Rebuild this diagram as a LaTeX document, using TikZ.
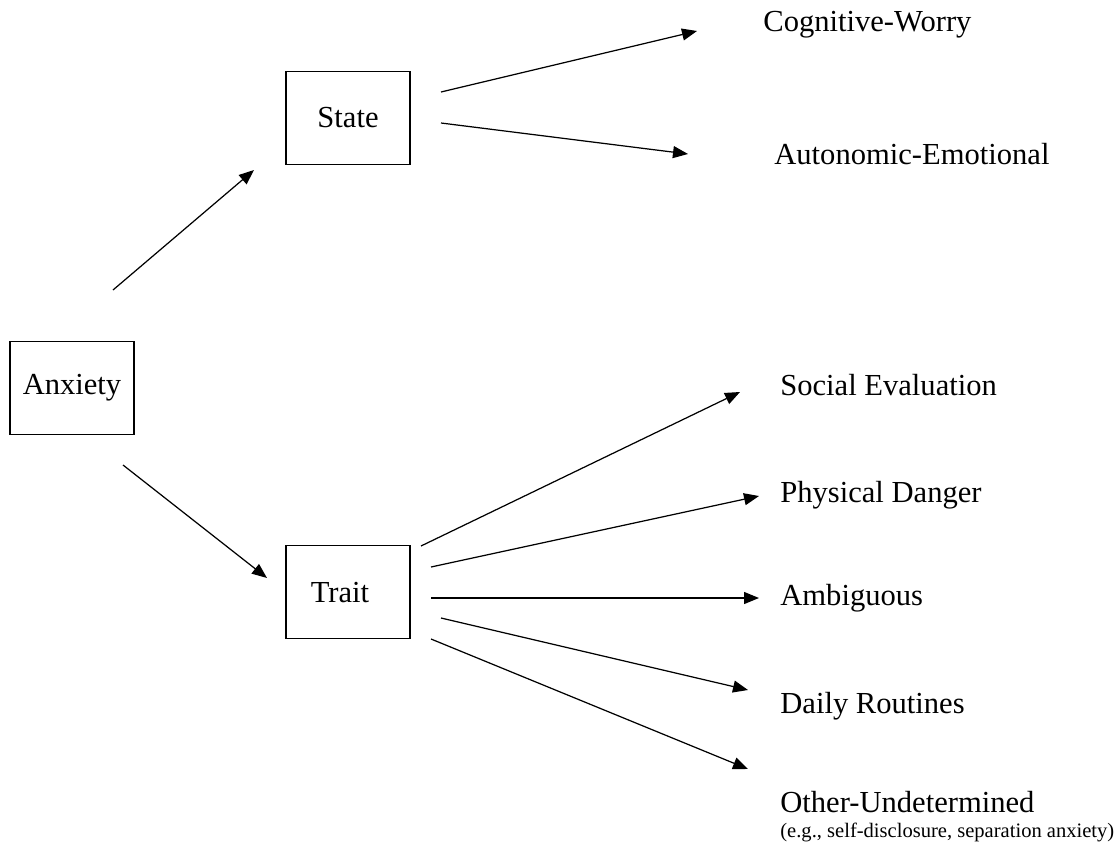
\documentclass[tikz,border=0pt]{standalone}
\usepackage{fontspec}
\setmainfont{Liberation Serif}
\usepackage{tikz}
\usetikzlibrary{arrows.meta,positioning}

\begin{document}
\begin{tikzpicture}[
        x=0.02cm, y=-0.02cm,
        font=\fontsize{17.4}{20}\selectfont,
        box/.style={rectangle, draw, line width=0.8pt, minimum width=2.48cm, minimum height=1.86cm, inner sep=0pt},
        lbl/.style={anchor=west, inner sep=0pt},
        arr/.style={-{Triangle[length=0.3cm, width=0.24cm]}, line width=0.7pt}
    ]
        \useasboundingbox (0,0) rectangle (1118,848);
        % boxes
        \node[box] (anx) at (72,388) {Anxiety};
        \node[box] (state) at (348,118) {State};
        \node[box] (trait) at (348,592) {};
        \node[inner sep=0pt] (traittxt) at (340,593) {Trait};
        % labels
        \node[lbl] (cog) at (763,25) {Cognitive-Worry};
        \node[lbl] (aut) at (774,154) {Autonomic-Emotional};
        \node[lbl] (soc) at (780,385) {Social Evaluation};
        \node[lbl] (phy) at (780,495) {Physical Danger};
        \node[lbl] (amb) at (780,598) {Ambiguous};
        \node[lbl] (day) at (780,706) {Daily Routines};
        \node[lbl] (oth) at (780,802) {Other-Undetermined};
        \node[lbl, font=\fontsize{11.7}{13}\selectfont] (oth2) at (780,832) {(e.g., self-disclosure, separation anxiety)};
        % arrow ends
        \coordinate (a1) at (113,290);  \coordinate (b1) at (254,170);
        \coordinate (a2) at (123,465);  \coordinate (b2) at (267,578);
        \coordinate (s1) at (441,92);   \coordinate (c1) at (697,31);
        \coordinate (s2) at (441,123);  \coordinate (c2) at (688,154);
        \coordinate (t1) at (421,546);  \coordinate (d1) at (740,392);
        \coordinate (t2) at (431,567);  \coordinate (d2) at (759,496);
        \coordinate (t3) at (431,598);  \coordinate (d3) at (759,598);
        \coordinate (t4) at (441,618);  \coordinate (d4) at (748,690);
        \coordinate (t5) at (431,639);  \coordinate (d5) at (748,769);
        \draw[arr] (a1) -- (b1);
        \draw[arr] (a2) -- (b2);
        \draw[arr] (s1) -- (c1);
        \draw[arr] (s2) -- (c2);
        \draw[arr] (t1) -- (d1);
        \draw[arr] (t2) -- (d2);
        \draw[arr] (t3) -- (d3);
        \draw[arr] (t4) -- (d4);
        \draw[arr] (t5) -- (d5);
    \end{tikzpicture}
\end{document}
